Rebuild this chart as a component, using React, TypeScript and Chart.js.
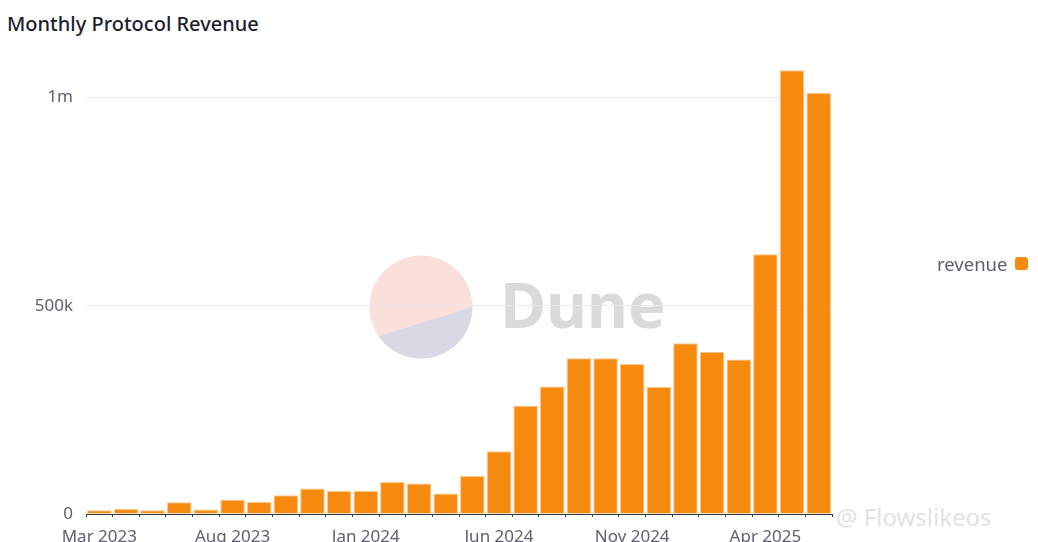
import { useEffect, useRef } from 'react'
import Chart from 'chart.js/auto'

// ─── data ────────────────────────────────────────────────────────────────
const months = [
  'Mar 2023', 'Apr 2023', 'May 2023', 'Jun 2023', 'Jul 2023', 'Aug 2023', 'Sep 2023',
  'Oct 2023', 'Nov 2023', 'Dec 2023', 'Jan 2024', 'Feb 2024', 'Mar 2024', 'Apr 2024',
  'May 2024', 'Jun 2024', 'Jul 2024', 'Aug 2024', 'Sep 2024', 'Oct 2024', 'Nov 2024',
  'Dec 2024', 'Jan 2025', 'Feb 2025', 'Mar 2025', 'Apr 2025', 'May 2025', 'Jun 2025',
]
const revenue = [
  9000, 12000, 9000, 28000, 11000, 34000, 29000,
  45000, 61000, 55000, 55000, 77000, 73000, 49000,
  91000, 151000, 260000, 306000, 374000, 374000, 360000,
  305000, 410000, 389000, 371000, 624000, 1066000, 1011000,
]
const yTicks = [0, 500000, 1000000]

const ORANGE = '#f58a0e'
const MUTED = '#5f5f70'
const FONT = '"Noto Sans", sans-serif'

const fmt = (v: number) => (v >= 1e6 ? `${v / 1e6}m` : v >= 1e3 ? `${v / 1e3}k` : `${v}`)

export default function App() {
  const canvasRef = useRef<HTMLCanvasElement>(null)

  useEffect(() => {
    document.body.style.margin = '0'
    const canvas = canvasRef.current
    if (!canvas) return
    const chart = new Chart(canvas, {
      type: 'bar',
      data: {
        labels: months,
        datasets: [
          {
            label: 'revenue',
            data: revenue,
            backgroundColor: ORANGE,
            borderColor: '#fcc58a',
            borderWidth: 1,
            barPercentage: 0.92,
            categoryPercentage: 1,
          },
        ],
      },
      options: {
        responsive: false,
        animation: false,
        layout: { padding: { top: 56, right: 206, left: 0, bottom: 0 } },
        plugins: {
          legend: { display: false },
          tooltip: { enabled: false },
        },
        scales: {
          x: {
            afterFit: (s: any) => {
              s.height = 46
            },
            grid: {
              drawOnChartArea: false,
              drawTicks: true,
              tickLength: 3,
              color: '#3a3a3a',
            },
            border: { color: '#3a3a3a', width: 1 },
            ticks: {
              autoSkip: false,
              maxRotation: 0,
              padding: 10,
              color: MUTED,
              font: { family: FONT, size: 17 },
              callback: (_v: any, i: number) => (i % 5 === 0 ? months[i] : ''),
            },
          },
          y: {
            min: 0,
            max: 1100000,
            afterFit: (s: any) => {
              s.width = 86
            },
            afterBuildTicks: (s: any) => {
              s.ticks = yTicks.map((value) => ({ value }))
            },
            grid: { color: '#e8e8ec', drawTicks: false },
            border: { display: false },
            ticks: {
              padding: 13,
              color: MUTED,
              font: { family: FONT, size: 17 },
              callback: (v: any) => fmt(Number(v)),
            },
          },
        },
      },
    })
    return () => chart.destroy()
  }, [])

  return (
    <div style={{ position: 'relative', width: 1038, height: 542, overflow: 'hidden', background: '#fff' }}>
      {/* Dune watermark */}
      <svg
        width={110}
        height={110}
        viewBox="-55 -55 110 110"
        style={{ position: 'absolute', left: 366, top: 252 }}
      >
        <circle cx={0} cy={0} r={51.5} fill="#fbdfda" />
        <path d="M 51.5 0 A 51.5 51.5 0 0 1 -42.4 29.2 Z" fill="#d9d9e5" />
      </svg>
      <div
        style={{
          position: 'absolute',
          left: 500,
          top: 264,
          fontFamily: FONT,
          fontWeight: 700,
          fontSize: 63,
          lineHeight: '80px',
          color: '#dadada',
        }}
      >
        Dune
      </div>
      <div
        style={{
          position: 'absolute',
          left: 836,
          top: 500,
          fontFamily: FONT,
          fontSize: 24,
          color: 'rgba(200,200,200,0.55)',
        }}
      >
        @ Flowslikeos
      </div>

      <div
        style={{
          position: 'absolute',
          left: 7,
          top: 10,
          fontFamily: FONT,
          fontWeight: 500,
          fontSize: 20,
          color: '#1d1d2b',
        }}
      >
        Monthly Protocol Revenue
      </div>

      <div style={{ position: 'absolute', left: 0, top: 0, width: 1038, height: 560 }}>
        <canvas ref={canvasRef} width={1038} height={560} style={{ width: 1038, height: 560 }} />
      </div>

      {/* legend */}
      <div
        style={{
          position: 'absolute',
          left: 937,
          top: 251,
          display: 'flex',
          alignItems: 'center',
          gap: 8,
          fontFamily: FONT,
          fontSize: 18.5,
          color: MUTED,
        }}
      >
        <span>revenue</span>
        <span style={{ width: 13, height: 13, borderRadius: 3, background: ORANGE, display: 'inline-block' }} />
      </div>
    </div>
  )
}
